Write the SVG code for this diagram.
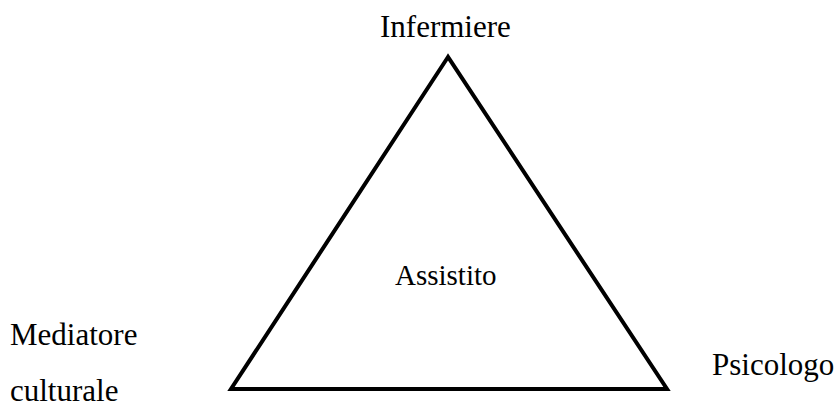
<svg xmlns="http://www.w3.org/2000/svg" width="836" height="406" viewBox="0 0 836 406">
<style>
text{font-family:"Liberation Serif","Times New Roman",serif;font-size:31px;fill:#000}
.tri{fill:none;stroke:#000;stroke-width:4;stroke-linejoin:miter}
</style>
<rect width="836" height="406" fill="#fff"/>
<g id="connectors">
<polygon class="tri" points="448,57 231,389 667,389"/>
</g>
<g id="infermiere"><text x="380" y="37">Infermiere</text></g>
<g id="assistito"><text x="395" y="285" style="font-size:29px">Assistito</text></g>
<g id="mediatore"><text x="10" y="345">Mediatore</text><text x="10" y="401">culturale</text></g>
<g id="psicologo"><text x="712" y="375">Psicologo</text></g>
</svg>
